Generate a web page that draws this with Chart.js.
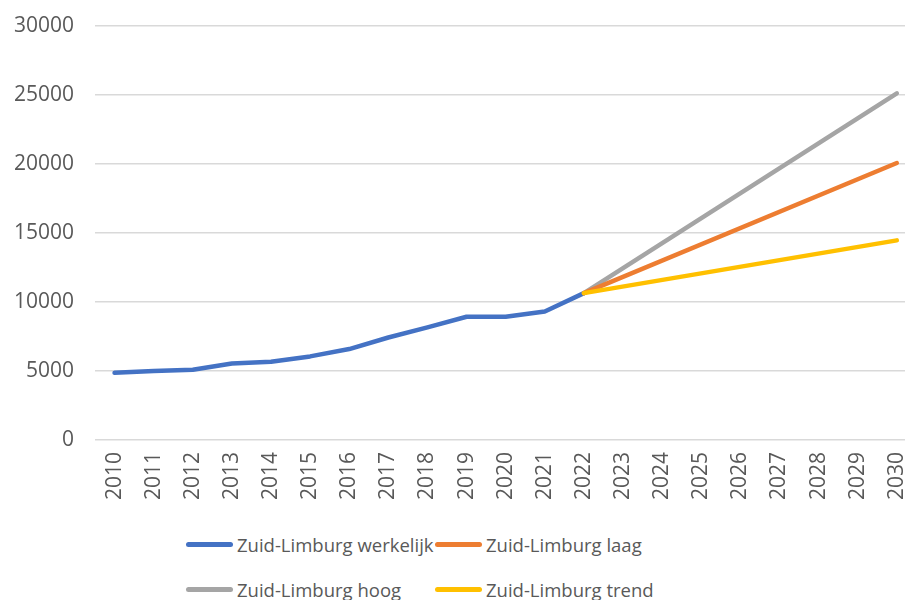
<!DOCTYPE html>
<html>
<head>
<meta charset="utf-8">
<script src="https://cdn.jsdelivr.net/npm/chart.js@4/dist/chart.umd.min.js"></script>
<style>
  html, body { margin:0; padding:0; width:905px; height:600px; overflow:hidden; background:#fff; }
  #wrap { position:absolute; left:0; top:-8px; width:926px; height:512px; }
  #legend { position:absolute; left:186px; top:0; width:600px; font-family:"Open Sans", sans-serif; font-size:18.5px; color:#595959; }
  .item { position:absolute; display:flex; align-items:center; white-space:nowrap; height:30px; }
  .mark { display:inline-block; width:47px; height:5px; border-radius:3px; margin-right:4px; }
</style>
</head>
<body>
<div id="wrap"><canvas id="c" width="926" height="512"></canvas></div>
<div id="legend"></div>
<script>
const years = ['2010','2011','2012','2013','2014','2015','2016','2017','2018','2019','2020','2021','2022','2023','2024','2025','2026','2027','2028','2029','2030'];
const werkelijk = [4860, 4990, 5080, 5540, 5660, 6050, 6580, 7420, 8150, 8920, 8920, 9300, 10630, null, null, null, null, null, null, null, null];
const laag  = [null,null,null,null,null,null,null,null,null,null,null,null, 10630, null,null,null,null,null,null,null, 20050];
const hoog  = [null,null,null,null,null,null,null,null,null,null,null,null, 10630, null,null,null,null,null,null,null, 25100];
const trend = [null,null,null,null,null,null,null,null,null,null,null,null, 10630, null,null,null,null,null,null,null, 14450];
const seriesNames = ['Zuid-Limburg werkelijk','Zuid-Limburg laag','Zuid-Limburg hoog','Zuid-Limburg trend'];
const seriesColors = ['#4472C4','#ED7D31','#A5A5A5','#FFC000'];
const yTicks = [0, 5000, 10000, 15000, 20000, 25000, 30000];

const seriesData = [werkelijk, laag, hoog, trend];
const mk = (i) => ({
  label: seriesNames[i], data: seriesData[i],
  borderColor: seriesColors[i], backgroundColor: seriesColors[i],
  borderWidth: 4.5, borderCapStyle:'round', borderJoinStyle:'round',
  pointRadius: 0, spanGaps: true, tension: 0
});
const datasets = [mk(0), mk(1), mk(2), mk(3)];
datasets[0].order = 4; datasets[1].order = 2; datasets[2].order = 3; datasets[3].order = 1;

const font = { family: '"Open Sans", sans-serif', size: 21 };
const chart = new Chart(document.getElementById('c'), {
  type: 'line',
  data: { labels: years, datasets },
  options: {
    responsive: false, animation: false,
    layout: { padding: { left: 0, top: 7, right: 0, bottom: 0 } },
    plugins: { legend: { display: false }, tooltip: { enabled: false } },
    scales: {
      x: {
        offset: true,
        grid: { display: false },
        border: { display: false },
        ticks: { color: '#595959', font, minRotation: 90, maxRotation: 90, padding: 4, autoSkip: false }
      },
      y: {
        min: 0, max: 30000,
        afterBuildTicks: (s) => { s.ticks = yTicks.map(v => ({ value: v })); },
        afterFit: (s) => { s.width = 95; },
        grid: { color: '#d9d9d9', lineWidth: 1.5, drawTicks: false },
        border: { display: false },
        ticks: { color: '#595959', font, padding: 21, callback: (v) => String(v) }
      }
    }
  }
});

const leg = document.getElementById('legend');
const pos = [[0, 529], [249, 529], [0, 574], [249, 574]];
chart.data.datasets.forEach((ds, i) => {
  const it = document.createElement('div');
  it.className = 'item';
  it.style.left = pos[i][0] + 'px';
  it.style.top = pos[i][1] + 'px';
  const m = document.createElement('span');
  m.className = 'mark';
  m.style.background = ds.borderColor;
  const t = document.createElement('span');
  t.textContent = ds.label;
  it.appendChild(m); it.appendChild(t);
  leg.appendChild(it);
});
</script>
</body>
</html>
